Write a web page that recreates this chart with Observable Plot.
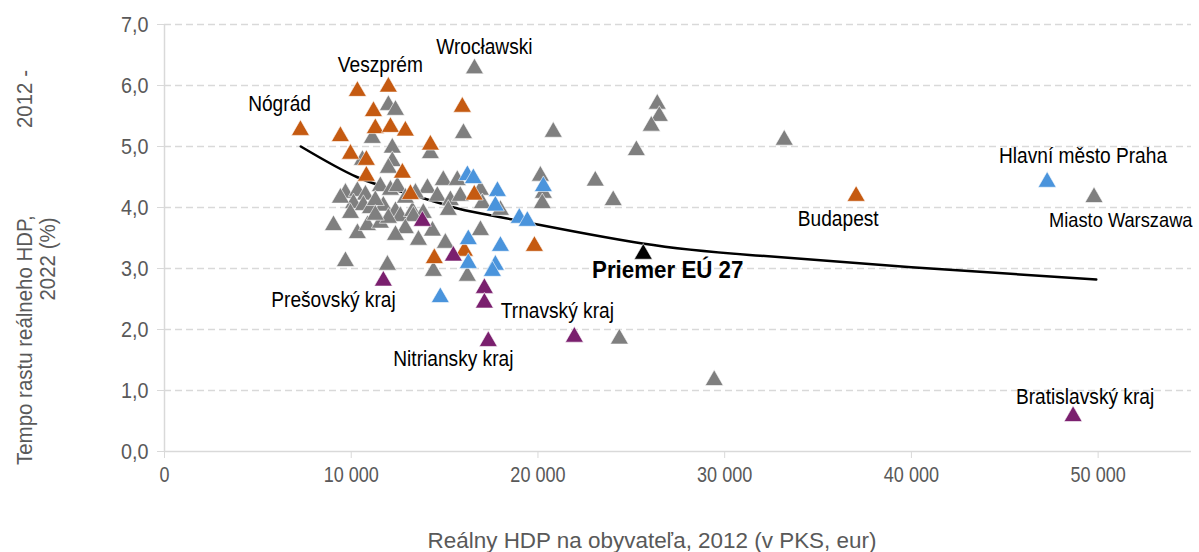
<!DOCTYPE html>
<html><head><meta charset="utf-8">
<script src="https://cdn.jsdelivr.net/npm/d3@7"></script>
<script src="https://cdn.jsdelivr.net/npm/@observablehq/plot@0.6"></script>
<style>
html,body{margin:0;padding:0;background:#fff;}
#chart{width:1199px;height:552px;}
</style></head><body><div id="chart"></div>
<script>
// ---- data ----
const xTicks = [0, 10000, 20000, 30000, 40000, 50000];
const yTicks = [0, 1, 2, 3, 4, 5, 6, 7];

// Poland (grey)
const greyX = [16600,11990,12370,16010,11130,20820,26390,26500,26070,25270,33190,23070,24030,20130,20290,20230,29440,24360,49780,
  12200,12200,11990,10600,14240,14930,15680,14080,16920,9690,10330,10760,11560,12100,12470,14610,15310,15840,10120,10650,11030,11720,
  12370,12630,13280,13860,9050,10330,10870,11560,11990,13330,13600,14350,9690,11940,14400,16220,16920,15200,17020,17990,
  9420,11290,12900,13440,9960,11290,12900,12370,15040];
const greyY = [6.32,5.72,5.64,5.26,5.18,5.28,5.74,5.54,5.38,4.98,5.15,4.48,4.16,4.56,4.28,4.11,1.21,1.89,4.21,
  5.02,4.80,4.69,4.82,4.93,4.49,4.49,4.36,4.33,4.28,4.31,4.25,4.39,4.33,4.39,4.23,4.16,4.23,4.11,4.08,4.03,4.07,
  3.98,3.90,3.98,3.95,3.75,3.62,3.75,3.79,3.87,3.90,3.51,3.66,3.16,3.10,3.00,2.92,3.67,4.00,4.11,4.00,
  4.20,4.16,4.20,4.28,3.95,3.92,3.70,3.59,3.46];

// Hungary (orange)
const orangeX = [7280,10330,11990,11190,11290,12100,12900,9420,9960,10810,10810,12740,14240,15950,13170,16590,14450,16060,19810,37040];
const orangeY = [5.31,5.95,6.02,5.62,5.34,5.36,5.30,5.21,4.92,4.82,4.56,4.61,5.07,5.69,4.26,4.25,3.21,3.33,3.41,4.23];

// Czechia (blue)
const blueX = [47270,16220,16540,17830,17720,20290,19000,19430,16270,17990,16270,17720,17560,14770];
const blueY = [4.46,4.57,4.52,4.31,4.07,4.39,3.87,3.82,3.52,3.41,3.13,3.10,3.00,2.57];

// Slovakia (purple)
const purpleX = [48660,17130,17130,17340,21950,15470,13810,11720];
const purpleY = [0.62,2.72,2.48,1.85,1.92,3.25,3.82,2.84];

// EU 27 average (black)
const euX = [25640];
const euY = [3.28];

// trend curve
const trendX = [7300,10300,13000,15500,18000,25600,31900,40000,49900];
const trendY = [5.00,4.50,4.23,4.00,3.84,3.41,3.21,3.02,2.82];

// annotations (centred)
const labelText = ["Nógrád","Veszprém","Wrocławski","Hlavní město Praha","Budapest",
  "Prešovský kraj","Trnavský kraj","Nitriansky kraj","Bratislavský kraj"];
const labelX = [6160,11560,17130,49190,36080,9050,21040,15470,49300];
const labelY = [5.69,6.33,6.64,4.85,3.82,2.48,2.31,1.52,0.90];
// annotation ending at the right edge
const edgeLabel = ["Miasto Warszawa"];
const edgeLabelX = [55000];
const edgeLabelY = [3.79];
const euLabel = ["Priemer EÚ 27"];
const euLabelX = [26950];
const euLabelY = [2.97];

const xTitle = "Reálny HDP na obyvateľa, 2012 (v PKS, eur)";
const yTitleA = "Tempo rastu reálneho HDP,";
const yTitleB = "2012 -";
const yTitleC = "2022 (%)";

// ---- build ----
const FONT = '"Liberation Sans Narrow","Arial Narrow","Liberation Sans",Arial,sans-serif';
const pts = (xs, ys) => xs.map((x, i) => ({x, y: ys[i]}));
const lbls = (ts, xs, ys) => ts.map((t, i) => ({t, x: xs[i], y: ys[i]}));
const fmtX = d => d3.format(",")(d).replace(/,/g, " ");
const fmtY = d => d.toFixed(1).replace(".", ",");
const tri = (data, fill) => Plot.dot(data, {x: "x", y: "y", symbol: "triangle", r: 6.7, fill, stroke: "white", strokeWidth: 0.6, dy: 2.6});

const chart = Plot.plot({
  width: 1199, height: 552,
  marginLeft: 164, marginRight: 8, marginTop: 24, marginBottom: 101,
  style: {fontFamily: FONT, fontSize: "22px", color: "#595959", background: "white", overflow: "visible"},
  x: {domain: [0, 55000], label: null},
  y: {domain: [0, 7], label: null},
  marks: [
    Plot.ruleY(yTicks.filter(d => d > 0), {stroke: "#d9d9d9", strokeWidth: 1.5, strokeDasharray: "7,4"}),
    Plot.ruleY([0], {stroke: "#d9d9d9", strokeWidth: 1.5}),
    Plot.ruleX([0], {stroke: "#d9d9d9", strokeWidth: 1.5}),
    Plot.axisX({ticks: xTicks, tickFormat: fmtX, tickSize: 7, tickPadding: 8, stroke: "#d9d9d9", fill: "#595959", label: null}),
    Plot.axisY({ticks: yTicks, tickFormat: fmtY, tickSize: 7, tickPadding: 9, stroke: "#d9d9d9", fill: "#595959", label: null}),
    Plot.line(pts(trendX, trendY), {x: "x", y: "y", curve: "natural", stroke: "#000", strokeWidth: 2.5}),
    tri(pts(greyX, greyY), "#7f7f7f"),
    tri(pts(orangeX, orangeY), "#c55a11"),
    tri(pts(blueX, blueY), "#4a94dc"),
    tri(pts(purpleX, purpleY), "#7a1f6e"),
    tri(pts(euX, euY), "#000000"),
    Plot.text(lbls(labelText, labelX, labelY), {x: "x", y: "y", text: "t", fill: "#000", fontSize: 22, className: "lbl"}),
    Plot.text(lbls(edgeLabel, edgeLabelX, edgeLabelY), {x: "x", y: "y", text: "t", fill: "#000", fontSize: 21, textAnchor: "end", dx: 1, className: "lbl"}),
    Plot.text(lbls(euLabel, euLabelX, euLabelY), {x: "x", y: "y", text: "t", fill: "#000", fontSize: 24, fontWeight: "bold", className: "eulbl"})
  ]
});

const svg = d3.select(chart);
const addTitle = (tr, anchor, txt, cls) => svg.append("text").attr("class", cls).attr("transform", tr).attr("dy", "0.35em")
  .attr("text-anchor", anchor).attr("fill", "#595959").attr("font-size", 22).text(txt);
addTitle("translate(24,465) rotate(-90)", "start", yTitleA, "ytitle");
addTitle("translate(24,128) rotate(-90)", "start", yTitleB, "ytitle");
addTitle("translate(47,259) rotate(-90)", "middle", yTitleC, "ytitle");
addTitle("translate(652,540)", "middle", xTitle, "xtitle");

document.getElementById("chart").appendChild(chart);

// condense the texts to match the narrow face of the original
function squeeze(sel, ratio) {
  svg.selectAll(sel).each(function () {
    const len = this.getComputedTextLength();
    if (len > 0) {
      this.setAttribute("textLength", (len * ratio).toFixed(1));
      this.setAttribute("lengthAdjust", "spacingAndGlyphs");
    }
  });
}
squeeze('g[aria-label="x-axis tick label"] text', 0.82);
squeeze('g[aria-label="y-axis tick label"] text', 0.9);
squeeze('g.lbl text', 0.87);
squeeze('g.eulbl text', 0.93);
squeeze('text.ytitle', 0.93);
squeeze('text.xtitle', 1.02);
</script></body></html>
